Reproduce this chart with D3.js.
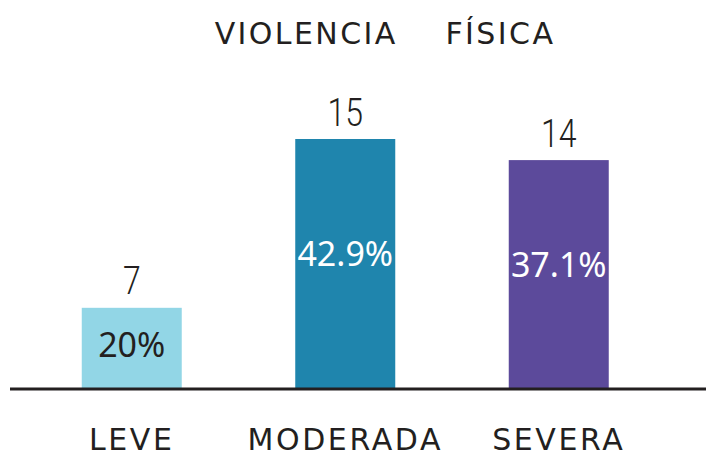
<!DOCTYPE html>
<html>
<head>
<meta charset="utf-8">
<script src="https://cdn.jsdelivr.net/npm/d3@7"></script>
<style>
  html, body { margin: 0; padding: 0; background: #ffffff; }
  svg { display: block; }
</style>
</head>
<body>
<svg id="chart" width="706" height="461"></svg>
<script>
// ---- data ----
const titleText = "VIOLENCIA    FÍSICA";
const categories = ["LEVE", "MODERADA", "SEVERA"];
const counts = [7, 15, 14];
const percentLabels = ["20%", "42.9%", "37.1%"];
const barColors = ["#92d6e6", "#1f85ad", "#5c4a9b"];
const pctColors = ["#231f20", "#ffffff", "#ffffff"];

// ---- layout ----
const W = 706, H = 461;
const baseY = 388;
const textColor = "#231f20";
const svg = d3.select("#chart");

const x = d3.scaleBand()
  .domain(categories)
  .range([25, 665.5])
  .paddingInner(0.5316)
  .paddingOuter(0.2658);

const y = d3.scaleLinear()
  .domain([3.2, 15])
  .range([baseY, 139]);

const rows = categories.map((c, i) => ({
  cat: c, count: counts[i], pct: percentLabels[i],
  color: barColors[i], pctColor: pctColors[i]
}));

// title
svg.append("text")
  .attr("x", 385)
  .attr("y", 44)
  .attr("text-anchor", "middle")
  .style("white-space", "pre")
  .attr("font-family", "'DejaVu Sans', sans-serif")
  .attr("font-size", 30)
  .attr("letter-spacing", 2.4)
  .attr("fill", textColor)
  .text(titleText);

// bars
svg.selectAll("rect.bar")
  .data(rows)
  .join("rect")
  .attr("class", "bar")
  .attr("x", d => x(d.cat))
  .attr("width", x.bandwidth())
  .attr("y", d => y(d.count))
  .attr("height", d => baseY - y(d.count))
  .attr("fill", d => d.color);

// count labels above bars (light, narrow numerals)
svg.selectAll("g.count")
  .data(rows)
  .join("g")
  .attr("class", "count")
  .attr("transform", d => `translate(${x(d.cat) + x.bandwidth() / 2},${y(d.count) - 13.5}) scale(0.82,1)`)
  .append("text")
  .attr("text-anchor", "middle")
  .attr("font-family", "Roboto, 'Liberation Sans', sans-serif")
  .attr("font-weight", 300)
  .attr("font-size", 39)
  .attr("fill", textColor)
  .text(d => d.count);

// percentage labels inside bars
svg.selectAll("text.pct")
  .data(rows)
  .join("text")
  .attr("class", "pct")
  .attr("x", d => x(d.cat) + x.bandwidth() / 2)
  .attr("y", d => baseY - 0.54 * (baseY - y(d.count)))
  .attr("dy", "0.36em")
  .attr("text-anchor", "middle")
  .attr("font-family", "'Noto Sans', sans-serif")
  .attr("font-size", 34)
  .attr("fill", d => d.pctColor)
  .text(d => d.pct);

// baseline axis with category labels
const xAxis = d3.axisBottom(x).tickSize(0).tickPadding(40);
const axisG = svg.append("g")
  .attr("transform", `translate(0,${baseY + 1})`)
  .call(xAxis);
axisG.select(".domain").remove();
axisG.selectAll(".tick text")
  .attr("font-family", "'DejaVu Sans', sans-serif")
  .attr("font-size", 30)
  .attr("letter-spacing", 2.6)
  .attr("fill", textColor);
axisG.append("line")
  .attr("x1", 10).attr("x2", W)
  .attr("y1", 0).attr("y2", 0)
  .attr("stroke", textColor)
  .attr("stroke-width", 3);
</script>
</body>
</html>
